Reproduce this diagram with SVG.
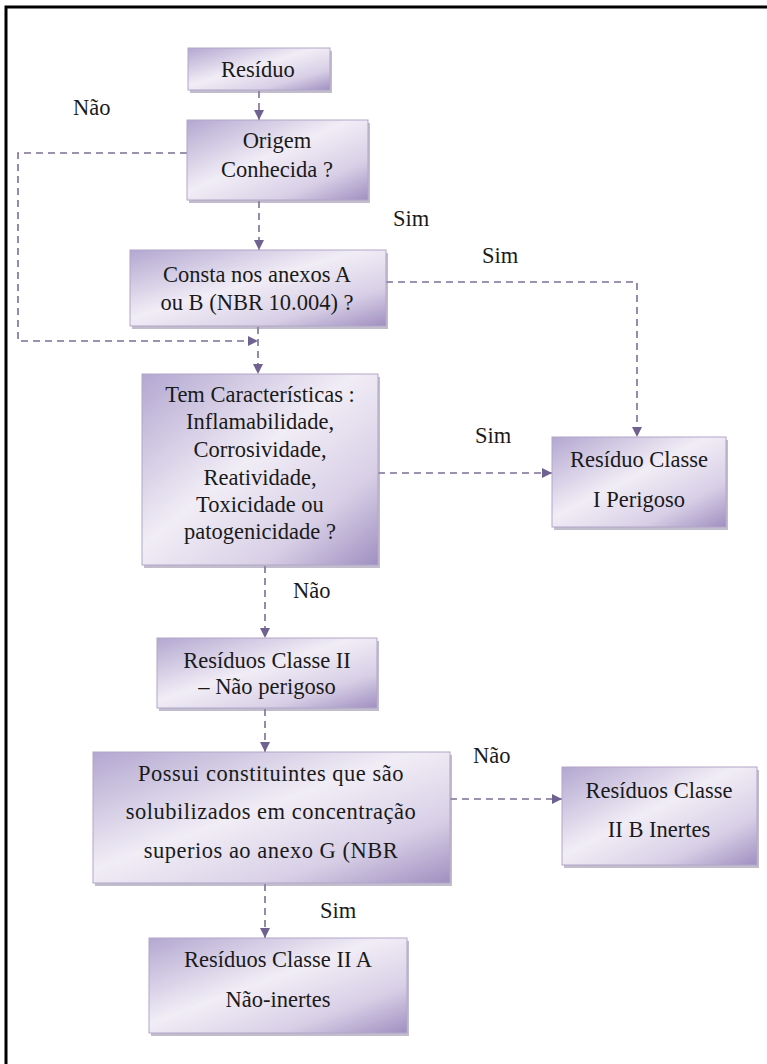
<svg xmlns="http://www.w3.org/2000/svg" width="767" height="1064" viewBox="0 0 767 1064">
<defs>
<linearGradient id="g" x1="0" y1="0" x2="1" y2="1">
<stop offset="0" stop-color="#b3a7d0"/>
<stop offset="0.45" stop-color="#f1edf6"/>
<stop offset="0.75" stop-color="#d8cfe6"/>
<stop offset="1" stop-color="#9f8fc0"/>
</linearGradient>
<marker id="ah" viewBox="0 0 10 10" refX="10" refY="5" markerWidth="10" markerHeight="10" markerUnits="userSpaceOnUse" orient="auto">
<path d="M0,0 L10,5 L0,10 Z" fill="#6f6290"/>
</marker>
</defs>
<style>
text{font-family:'Liberation Serif','Times New Roman',Times,'DejaVu Serif','Noto Serif',FreeSerif,serif}
.box{fill:url(#g);stroke:#b1a6c8;stroke-width:1}
.sh{fill:#8f86a3;opacity:0.55}
.t{font-size:22.5px;fill:#1a1a1a;text-anchor:middle}
.l{font-size:22.5px;fill:#1a1a1a}
.ca{fill:none;stroke:#7b6f95;stroke-width:1.6;stroke-dasharray:7,5;marker-end:url(#ah)}
</style>
<rect width="767" height="1064" fill="#fff"/>
<path d="M6,1064 V7 H767" fill="none" stroke="#000" stroke-width="3"/>

<g id="connectors">
<path class="ca" d="M259,91 V120"/>
<path class="ca" d="M259,201 V250"/>
<path class="ca" d="M187,153 H18 V341 H258"/>
<path class="ca" d="M258,327 V374"/>
<path class="ca" d="M386,282 H637 V437"/>
<path class="ca" d="M378,473 H552"/>
<path class="ca" d="M265,566 V638"/>
<path class="ca" d="M265,709 V752"/>
<path class="ca" d="M450,799 H562"/>
<path class="ca" d="M265,884 V938"/>
</g>

<g id="labels">
<text class="l" x="73" y="115">Não</text>
<text class="l" x="393" y="226">Sim</text>
<text class="l" x="482" y="263">Sim</text>
<text class="l" x="475" y="443">Sim</text>
<text class="l" x="293" y="598">Não</text>
<text class="l" x="473" y="763">Não</text>
<text class="l" x="320" y="918">Sim</text>
</g>

<g id="residuo">
<rect class="sh" x="190" y="51" width="142" height="42"/>
<rect class="box" x="188" y="48" width="142" height="42"/>
<text class="t" x="258" y="77">Resíduo</text>
</g>

<g id="origem">
<rect class="sh" x="189" y="123" width="181" height="80"/>
<rect class="box" x="187" y="120" width="181" height="80"/>
<text class="t" x="277" y="148">Origem</text>
<text class="t" x="277" y="177">Conhecida ?</text>
</g>

<g id="consta">
<rect class="sh" x="132" y="253" width="256" height="76"/>
<rect class="box" x="130" y="250" width="256" height="76"/>
<text class="t" x="257" y="282">Consta nos anexos A</text>
<text class="t" x="257" y="310">ou B (NBR 10.004) ?</text>
</g>

<g id="caracteristicas">
<rect class="sh" x="144" y="377" width="236" height="191"/>
<rect class="box" x="142" y="374" width="236" height="191"/>
<text class="t" x="260" y="402">Tem Características  :</text>
<text class="t" x="260" y="429">Inflamabilidade,</text>
<text class="t" x="260" y="457">Corrosividade,</text>
<text class="t" x="260" y="485">Reatividade,</text>
<text class="t" x="260" y="512">Toxicidade ou</text>
<text class="t" x="260" y="539">patogenicidade ?</text>
</g>

<g id="classe1">
<rect class="sh" x="554" y="440" width="174" height="90"/>
<rect class="box" x="552" y="437" width="174" height="90"/>
<text class="t" x="639" y="467">Resíduo Classe</text>
<text class="t" x="639" y="507">I Perigoso</text>
</g>

<g id="classe2">
<rect class="sh" x="159" y="641" width="220" height="70"/>
<rect class="box" x="157" y="638" width="220" height="70"/>
<text class="t" x="267" y="668">Resíduos Classe II</text>
<text class="t" x="267" y="694">– Não perigoso</text>
</g>

<g id="possui">
<rect class="sh" x="95" y="755" width="357" height="131"/>
<rect class="box" x="93" y="752" width="357" height="131"/>
<text class="t" x="271" y="781" letter-spacing="0.5">Possui constituintes que são</text>
<text class="t" x="271" y="819" letter-spacing="0.5">solubilizados em concentração</text>
<text class="t" x="271" y="858" letter-spacing="0.5">superios ao anexo G (NBR</text>
</g>

<g id="classe2b">
<rect class="sh" x="564" y="770" width="195" height="98"/>
<rect class="box" x="562" y="767" width="195" height="98"/>
<text class="t" x="659" y="798">Resíduos Classe</text>
<text class="t" x="659" y="837">II B Inertes</text>
</g>

<g id="classe2a">
<rect class="sh" x="151" y="941" width="258" height="95"/>
<rect class="box" x="149" y="938" width="258" height="95"/>
<text class="t" x="278" y="967">Resíduos Classe II A</text>
<text class="t" x="278" y="1007">Não-inertes</text>
</g>
</svg>
